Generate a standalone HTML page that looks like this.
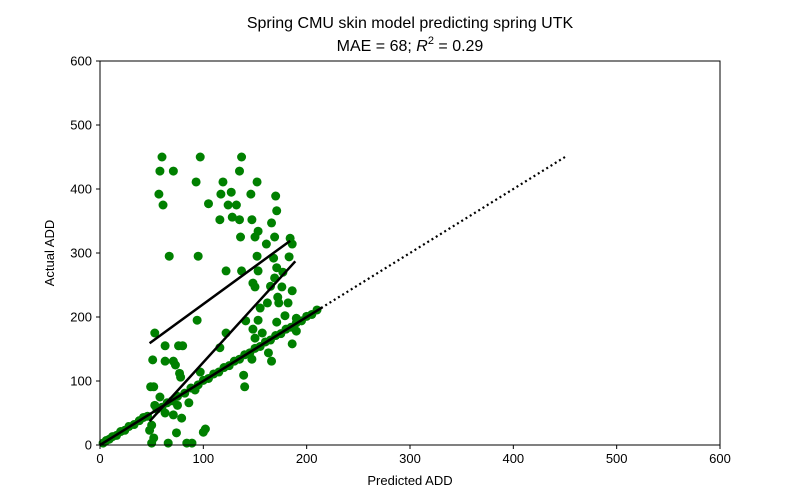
<!DOCTYPE html>
<html><head><meta charset="utf-8">
<style>body{margin:0;background:#fff}svg{display:block;font-family:"Liberation Sans","DejaVu Sans",sans-serif}</style>
</head><body>
<svg id="chart" width="800" height="500" xmlns="http://www.w3.org/2000/svg">
<text x="410" y="28" text-anchor="middle" font-size="16">Spring CMU skin model predicting spring UTK</text>
<text x="410" y="51" text-anchor="middle" font-size="16">MAE = 68; <tspan font-style="italic">R</tspan><tspan dy="-7" font-size="11">2</tspan><tspan dy="7"> = 0.29</tspan></text>
<g id="plot"></g>
<text x="410" y="485" text-anchor="middle" font-size="13">Predicted ADD</text>
<text transform="translate(54,253) rotate(-90)" text-anchor="middle" font-size="13">Actual ADD</text>
</svg>
<script>
const xTicks=[0,100,200,300,400,500,600];
const yTicks=[0,100,200,300,400,500,600];
const predicted=[60,58,71,97,93,137,135,119,152,117,127,146,170,57,61,105,124,132,171,116,128,135,147,166,153,150,136,169,161,184,186,67,95,152,183,168,171,153,122,137,177,169,148,150,176,165,186,172,173,162,182,155,179,171,153,141,94,148,190,122,53,157,150,190,186,76,80,63,116,51,63,71,73,147,163,166,77,78,139,140,49,52,58,53,63,71,75,86,79,50,48,52,50,66,74,84,89,100,102,97,92,
3,6,9,12,16,20,24,28,33,38,42,46,55,60,65,70,75,82,88,95,100,105,110,115,120,125,130,135,140,145,150,155,160,165,170,175,180,185,190,195,200,205,210];
const actual=[450,428,428,450,411,450,428,411,411,392,395,392,389,392,375,377,375,375,366,352,356,352,352,347,334,325,325,325,314,323,314,295,295,295,294,292,277,272,272,272,270,261,253,247,247,248,241,231,222,222,222,214,202,192,195,194,195,181,178,175,175,175,167,198,158,155,155,155,152,133,131,131,125,134,144,131,112,106,109,91,91,91,75,62,50,47,62,66,42,31,23,11,3,3,19,3,3,20,25,114,86,
3,7,9,13,15,21,23,29,32,38,43,45,56,59,66,69,76,81,89,94,101,104,111,114,121,124,131,134,141,144,151,154,161,164,171,174,181,184,191,194,201,204,211];
const fitA=[[48,159],[184,319]];
const fitB=[[48,37],[189,287]];
const solidDiag=[[0,0],[215,215]];
const dottedDiag=[[0,0],[450,450]];
const X=v=>100+v*620/600, Y=v=>445-v*384/600;
const NS="http://www.w3.org/2000/svg", g=document.getElementById('plot');
function mk(t,a){const e=document.createElementNS(NS,t);for(const k in a)e.setAttribute(k,a[k]);g.appendChild(e);return e;}
for(let i=0;i<predicted.length;i++){
 const c=mk('circle',{cx:X(predicted[i]),cy:Y(actual[i]),r:4.5,fill:'#008000'});
 
 
}
function line(p,name,extra){const l=mk('line',Object.assign({x1:X(p[0][0]),y1:Y(p[0][1]),x2:X(p[1][0]),y2:Y(p[1][1]),stroke:'#000','stroke-width':2.5},extra));
 
 }
line(dottedDiag,'identity-line-dotted',{'stroke-dasharray':'2,3','stroke-width':2.2});
line(solidDiag,'identity-line-solid',{});
line(fitA,'fit-line-upper',{});
line(fitB,'fit-line-lower',{});
const fr=mk('rect',{x:100,y:61,width:620,height:384,fill:'none',stroke:'#000','stroke-width':1});


xTicks.forEach(t=>{mk('line',{x1:X(t),x2:X(t),y1:445,y2:449,stroke:'#000'});
 const tx=mk('text',{x:X(t),y:463,'text-anchor':'middle','font-size':13});tx.textContent=t;
 
 });
yTicks.forEach(t=>{mk('line',{x1:96,x2:100,y1:Y(t),y2:Y(t),stroke:'#000'});
 const tx=mk('text',{x:92,y:Y(t)+4.5,'text-anchor':'end','font-size':13});tx.textContent=t;
 
 });
</script>
</body></html>
